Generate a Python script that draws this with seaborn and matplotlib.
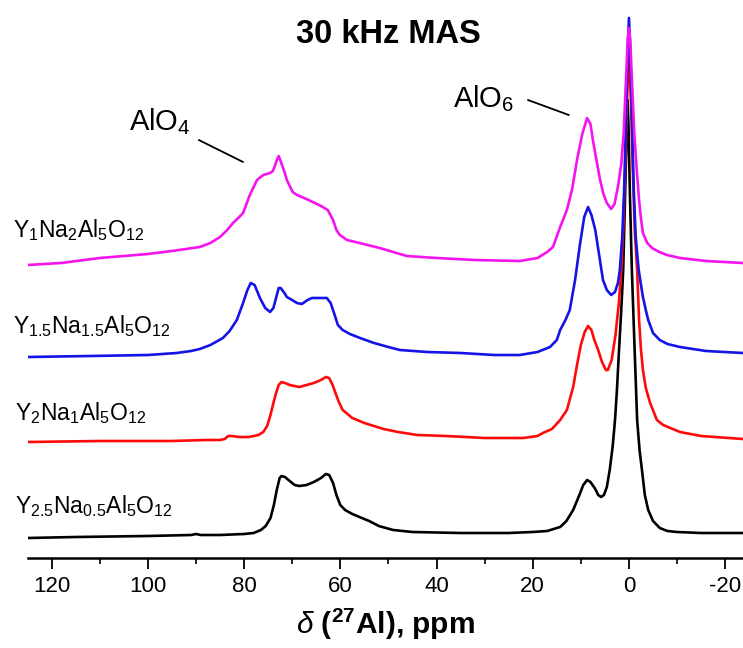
import matplotlib
matplotlib.use("Agg")
import matplotlib.pyplot as plt
from matplotlib.ticker import MultipleLocator
from matplotlib.transforms import blended_transform_factory
import numpy as np
import pandas as pd
import seaborn as sns

# ---------------- data ----------------
samples = ["Y2.5Na0.5", "Y2Na1", "Y1.5Na1.5", "Y1Na2"]
sample_labels = [r"Y$_{2.5}$Na$_{0.5}$Al$_5$O$_{12}$",
                 r"Y$_2$Na$_1$Al$_5$O$_{12}$",
                 r"Y$_{1.5}$Na$_{1.5}$Al$_5$O$_{12}$",
                 r"Y$_1$Na$_2$Al$_5$O$_{12}$"]
colors = ["#000000", "#FF0A0A", "#1414E6", "#F514F0"]
offsets = [23, 118, 203, 294]

black_ppm = [125, 115, 100, 91, 90, 89, 85, 80, 78, 76.5, 75.5, 74.5, 73.8, 73.2, 72.6, 72.2, 71.5,
             70.5, 69.5, 68.5, 67, 65.5, 64, 63, 62.3, 61.5, 60.8, 60, 59, 57.5, 55.5, 54, 52, 49,
             45, 35, 25, 20, 17, 14.3, 13, 11.6, 10.3, 9.5, 8.7, 8, 7, 6.4, 5.8, 5.2, 4.6, 4.0,
             3.4, 2.9, 2.5, 2.1, 1.6, 1.2, 0.8, 0.5, 0.3, 0.1, -0.2, -0.6, -1.2, -1.7, -2.2,
             -2.7, -3.3, -4, -5, -6.4, -8, -10, -15, -24]
black_int = [-3, -2, -1, 0, 1, 0, 0, 1, 2, 5, 9, 17, 30, 45, 57, 59, 58,
             54, 50, 49, 50, 53, 57, 61, 60, 52, 40, 30, 25, 21, 17, 14, 9, 5,
             3, 2, 2, 3, 4, 8, 14, 25, 40, 50, 55, 53, 46, 40, 38, 40, 48, 65,
             88, 115, 145, 182, 225, 265, 340, 400, 435, 410, 340, 265, 182, 115, 85,
             65, 40, 25, 14, 7, 4, 3, 2, 2]

red_ppm = [125, 110, 95, 88, 85, 84, 83.3, 82.5, 81, 79, 77, 76, 75.2, 74.5, 74, 73.4, 72.8,
           72.2, 71.5, 70.5, 69.5, 68.5, 67, 65.5, 64, 63, 62.3, 61.6, 61, 60.3, 59.5, 58.5,
           57.5, 56, 55, 53, 51, 48, 44, 38, 30, 22, 19, 17.9, 16, 14.3, 12.9, 11.6, 10.8,
           10, 9.2, 8.5, 7.8, 7.2, 6.4, 5.6, 4.8, 4.4, 3.6, 2.8, 2.1, 1.6, 1.2, 0.8, 0.4, 0,
           -0.4, -0.8, -1.2, -1.7, -2.1, -2.5, -2.9, -3.5, -4.4, -5.8, -7.1, -10.6, -15, -23.7]
red_int = [-2, -1, -1, 0, 0, 1, 4, 4, 3, 3, 5, 8, 14, 25, 35, 46, 55,
           58, 57, 55, 54, 53, 55, 57, 60, 63, 62, 55, 47, 38, 30, 26,
           22, 19, 17, 14, 11, 8, 5, 4, 2, 2, 4, 7, 11, 20, 30, 53, 75,
           95, 108, 114, 110, 100, 90, 78, 70, 70, 80, 105, 137, 170, 210, 270, 340, 390,
           340, 270, 210, 170, 120, 90, 70, 52, 37, 20, 15, 8, 4, 1]

blue_ppm = [125, 112, 100, 94, 91, 89.2, 87, 85.5, 84.4, 83, 81.5, 80.2, 79.3, 78.6, 77.8, 76.7,
            75.6, 74.6, 73.9, 73.4, 72.8, 72.4, 71.6, 71.1, 70, 69, 68, 66.8, 65.9, 64, 62.8,
            62, 61.3, 60.5, 59.5, 58, 55.9, 53, 50, 47.6, 42, 35, 28, 22.7, 19, 16.4, 15,
            14.3, 13.2, 12.3, 11.2, 10.2, 9.3, 8.5, 7.8, 7, 6.2, 5.4, 4.6, 3.7, 2.9, 2.3, 1.9,
            1.4, 1.0, 0.6, 0.3, 0, -0.3, -0.6, -1.0, -1.4, -2.0, -2.5, -2.9, -3.5, -4, -5,
            -6.4, -8, -10.6, -16, -23.7]
blue_int = [-2, -1, 0, 2, 4, 6, 10, 14, 17, 24, 35, 52, 65, 72, 70, 57,
            47, 43, 47, 56, 67, 67, 62, 58, 55, 52, 51, 55, 57, 57, 57,
            52, 42, 30, 25, 21, 17, 12, 8, 5, 3, 2, 0, 0, 3, 8, 15,
            25, 35, 45, 75, 110, 138, 148, 140, 125, 100, 75, 65, 60, 63, 72, 85,
            118, 165, 240, 300, 337, 300, 240, 165, 118, 86, 70, 58, 45, 35, 22,
            15, 11, 8, 4, 2]

magenta_ppm = [125, 118, 110, 100, 95, 89.2, 87, 85, 83.5, 82.3, 81.2, 80.2, 78.8, 77.3, 76,
               74.6, 74, 73.6, 73.1, 72.8, 72.4, 71.6, 71.1, 69.9, 69, 67.5, 65.7, 64, 62.6,
               61.5, 60.8, 60.1, 58.6, 56, 53.5, 51.8, 49, 46.2, 40, 32, 22.7, 19, 17, 15.8,
               14.3, 12.9, 11.8, 10.8, 9.7, 8.7, 8.0, 7.5, 6.8, 6.0, 5.3, 4.6, 3.7, 3.0, 2.3,
               1.6, 1.1, 0.5, 0.25, 0, -0.25, -0.5, -1.1, -1.6, -2.1, -2.5, -2.9, -3.8, -4.8,
               -6.3, -7.9, -10.6, -16, -23.7]
magenta_int = [-1, 1, 6, 10, 13, 17, 21, 27, 34, 41, 46, 51, 69, 84, 89,
               91, 93, 98, 105, 108, 103, 92, 84, 72, 69, 66, 62, 58, 54,
               44, 34, 29, 24, 21, 18, 16, 12, 8, 6, 4, 3, 6, 12, 17,
               37, 54, 75, 104, 130, 146, 140, 124, 105, 84, 70, 61, 55, 60, 77,
               100, 131, 197, 225, 236, 225, 197, 131, 95, 64, 45, 31, 21, 16,
               12, 9, 6, 3, 1]

series_ppm = [black_ppm, red_ppm, blue_ppm, magenta_ppm]
series_int = [black_int, red_int, blue_int, magenta_int]

xticks = [120, 100, 80, 60, 40, 20, 0, -20]

# ---------------- build table ----------------
frames = []
for name, ppm, inten, off in zip(samples, series_ppm, series_int, offsets):
    frames.append(pd.DataFrame({"ppm": ppm,
                                "y": np.asarray(inten, float) + off,
                                "sample": name}))
df = pd.concat(frames, ignore_index=True)

# ---------------- style ----------------
sns.set_theme(style="white")
plt.rcParams["font.family"] = ["Liberation Sans", "DejaVu Sans"]
plt.rcParams["mathtext.fontset"] = "custom"
plt.rcParams["mathtext.rm"] = "Liberation Sans"
plt.rcParams["mathtext.it"] = "Liberation Sans:italic"
plt.rcParams["mathtext.bf"] = "Liberation Sans:bold"
for k in ["text.color", "axes.labelcolor", "xtick.color", "axes.edgecolor"]:
    plt.rcParams[k] = "black"

fig = plt.figure(figsize=(7.43, 6.48), dpi=100)
ax = fig.add_axes([28 / 743, 90 / 648, 715 / 743, 558 / 648])

sns.lineplot(data=df, x="ppm", y="y", hue="sample", hue_order=samples,
             palette=dict(zip(samples, colors)), sort=False, estimator=None,
             legend=False, linewidth=1.9, ax=ax)

ax.set_xlim(124.9, -23.7)
ax.set_ylim(0, 558)
ax.set_yticks([])
ax.set_ylabel("")
ax.set_xticks(xticks)
ax.set_xticklabels([str(t) for t in xticks])
ax.xaxis.set_minor_locator(MultipleLocator(10))
ax.tick_params(axis="x", which="major", bottom=True, direction="out",
               length=8, width=1.3, labelsize=16, pad=5)
ax.tick_params(axis="x", which="minor", bottom=True, direction="out",
               length=4.5, width=1.2)
for s in ["left", "right", "top"]:
    ax.spines[s].set_visible(False)
ax.spines["bottom"].set_linewidth(1.8)
ax.spines["bottom"].set_color("black")

ax.set_xlabel(r"$\mathit{\delta}$ ($^{\mathbf{27}}$Al), ppm", fontsize=21.5,
              fontweight="bold", labelpad=7)

# sample labels (x in figure fraction, y in data units)
trans = blended_transform_factory(fig.transFigure, ax.transData)
label_pos = [(45, 15), (138, 15), (225, 13), (321, 13)]
for lab, (yb, xp) in zip(sample_labels, label_pos):
    ax.text(xp / 743, yb, lab, transform=trans, fontsize=16.5,
            va="baseline", ha="left", clip_on=False)

# title and annotations
ax.text(50.1, 515, "30 kHz MAS", fontsize=23.5, fontweight="bold",
        ha="center", va="baseline")
ax.text(104, 428, r"AlO$_4$", fontsize=21, ha="left", va="baseline")
ax.plot([89.4, 80.2], [418, 396], color="black", linewidth=1.3)
ax.text(36.5, 451, r"AlO$_6$", fontsize=21, ha="left", va="baseline")
ax.plot([21.0, 12.5], [458, 443], color="black", linewidth=1.3)

fig.savefig("out.png", dpi=100)
